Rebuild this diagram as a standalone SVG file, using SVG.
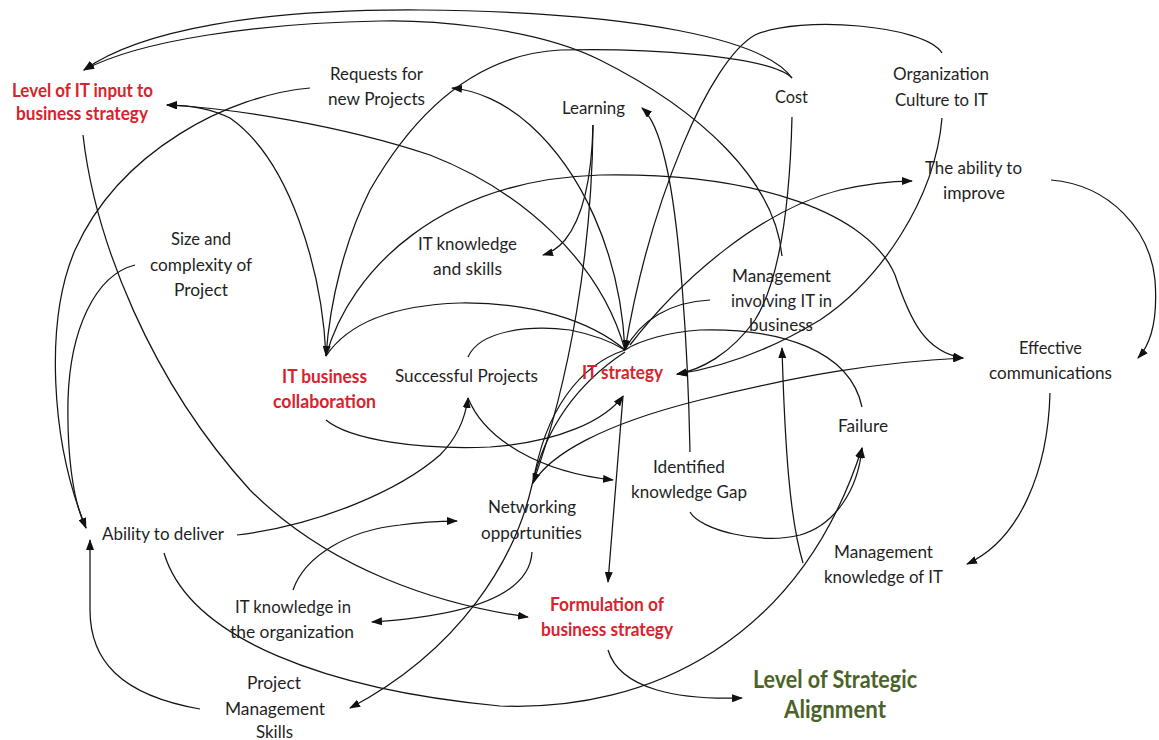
<svg xmlns="http://www.w3.org/2000/svg" width="1159" height="740" viewBox="0 0 1159 740">
  <defs>
    <marker id="arrow" markerUnits="userSpaceOnUse" markerWidth="11" markerHeight="8" refX="10" refY="4" orient="auto">
      <path d="M0,0 L11,4 L0,8 z" fill="#111"/>
    </marker>
    <style>
      .lbl { font-family: Lato, "Liberation Sans", sans-serif; font-size: 18px; fill: #1f1f1f; }
      .key { font-family: Lato, "Liberation Sans", sans-serif; font-size: 18px; font-weight: bold; fill: #d9232c; }
      .goal { font-family: Lato, "Liberation Sans", sans-serif; font-size: 24px; font-weight: bold; fill: #4b6329; }
      .link { fill: none; stroke: #141414; stroke-width: 1.25; }
      .arr { marker-end: url(#arrow); }
    </style>
  </defs>
  <rect width="1159" height="740" fill="#ffffff"/>

  <!-- causal links -->
  <g id="connectors">
    <path class="link arr" d="M792,78 C765,40 640,12 420,10 C260,9 140,30 84,70"/>
    <path class="link arr" d="M782,256 C775,180 700,110 600,60 C530,25 420,20 380,21 C260,23 140,40 84,70"/>
    <path class="link arr" d="M792,78 C770,55 640,48 560,50 C470,55 410,120 370,190 C345,240 330,300 326,356"/>
    <path class="link arr" d="M625,350 C620,250 580,170 530,125 C505,102 475,90 452,88"/>
    <path class="link arr" d="M310,88 C230,95 120,150 75,250 C45,320 50,440 86,528"/>
    <path class="link" d="M135,265 C95,275 70,330 68,400 C67,450 72,500 86,528"/>
    <path class="link arr" d="M200,709 C120,695 90,660 90,610 L90,540"/>
    <path class="link arr" d="M83,135 C95,240 150,380 250,490 C330,570 440,605 528,617"/>
    <path class="link arr" d="M326,356 C322,270 290,160 230,118 C210,108 190,105 167,105"/>
    <path class="link arr" d="M625,350 C600,260 520,190 430,155 C340,125 230,108 167,105"/>
    <path class="link arr" d="M326,356 C350,270 440,180 600,175 C760,172 870,215 895,275 C910,320 925,352 963,358"/>
    <path class="link" d="M326,356 C350,320 400,305 460,303 C530,302 590,320 625,350"/>
    <path class="link" d="M468,357 C480,330 530,325 570,330 C595,335 612,342 625,350"/>
    <path class="link arr" d="M326,420 C350,440 420,450 490,447 C560,442 605,420 623,396"/>
    <path class="link arr" d="M237,535 C320,525 400,490 440,455 C455,440 465,420 468,398"/>
    <path class="link arr" d="M468,398 C485,440 540,472 613,480"/>
    <path class="link arr" d="M690,452 C688,350 680,220 665,160 C658,130 650,115 642,108"/>
    <path class="link arr" d="M593,125 C592,170 585,215 565,240 C558,248 550,253 543,255"/>
    <path class="link arr" d="M593,125 C592,250 570,380 533,483"/>
    <path class="link" d="M625,350 C580,365 545,410 533,483"/>
    <path class="link arr" d="M625,352 C575,385 545,430 532,485 C515,560 460,650 350,708"/>
    <path class="link arr" d="M533,483 C550,455 600,425 700,400 C800,375 880,362 963,358"/>
    <path class="link arr" d="M293,590 C305,555 350,530 400,525 C420,522 440,521 457,521"/>
    <path class="link arr" d="M532,552 C530,590 480,615 372,622"/>
    <path class="link arr" d="M164,553 C190,640 330,690 500,706 C650,712 800,640 862,448"/>
    <path class="link arr" d="M690,512 C700,530 760,545 800,535 C835,525 858,490 862,448"/>
    <path class="link arr" d="M803,563 C790,520 785,450 782,348"/>
    <path class="link" d="M862,407 C850,350 780,328 700,330 C670,332 640,340 625,350"/>
    <path class="link" d="M710,300 C670,302 640,320 625,350"/>
    <path class="link arr" d="M942,53 C925,25 800,15 755,35 C710,60 650,200 625,350"/>
    <path class="link arr" d="M942,118 C935,200 880,280 820,320 C770,350 720,368 677,374"/>
    <path class="link arr" d="M792,117 C790,200 780,280 755,320 C730,355 700,370 677,374"/>
    <path class="link arr" d="M630,345 C680,280 760,210 840,190 C870,183 890,181 912,181"/>
    <path class="link arr" d="M1051,180 C1110,185 1150,230 1155,280 C1158,320 1150,345 1138,358"/>
    <path class="link arr" d="M1050,393 C1048,470 1020,540 967,564"/>
    <path class="link arr" d="M623,396 L608,582"/>
    <path class="link arr" d="M608,650 C620,690 680,700 742,698"/>
  </g>

  <g id="level-it-input">
    <text class="key" x="12" y="97" textLength="141" lengthAdjust="spacingAndGlyphs">Level of IT input to</text>
    <text class="key" x="16" y="120" textLength="132" lengthAdjust="spacingAndGlyphs">business strategy</text>
  </g>
  <g id="requests">
    <text class="lbl" x="330" y="80" textLength="93" lengthAdjust="spacingAndGlyphs">Requests for</text>
    <text class="lbl" x="328" y="105" textLength="97" lengthAdjust="spacingAndGlyphs">new Projects</text>
  </g>
  <g id="learning">
    <text class="lbl" x="562" y="114" textLength="63" lengthAdjust="spacingAndGlyphs">Learning</text>
  </g>
  <g id="cost">
    <text class="lbl" x="775" y="103" textLength="33" lengthAdjust="spacingAndGlyphs">Cost</text>
  </g>
  <g id="org-culture">
    <text class="lbl" x="893" y="80" textLength="96" lengthAdjust="spacingAndGlyphs">Organization</text>
    <text class="lbl" x="895" y="106" textLength="93" lengthAdjust="spacingAndGlyphs">Culture to IT</text>
  </g>
  <g id="ability-improve">
    <text class="lbl" x="925" y="174" textLength="97" lengthAdjust="spacingAndGlyphs">The ability to</text>
    <text class="lbl" x="943" y="199" textLength="62" lengthAdjust="spacingAndGlyphs">improve</text>
  </g>
  <g id="it-knowledge-skills">
    <text class="lbl" x="418" y="250" textLength="99" lengthAdjust="spacingAndGlyphs">IT knowledge</text>
    <text class="lbl" x="433" y="275" textLength="69" lengthAdjust="spacingAndGlyphs">and skills</text>
  </g>
  <g id="size-complexity">
    <text class="lbl" x="171" y="245" textLength="60" lengthAdjust="spacingAndGlyphs">Size and</text>
    <text class="lbl" x="150" y="271" textLength="102" lengthAdjust="spacingAndGlyphs">complexity of</text>
    <text class="lbl" x="174" y="296" textLength="54" lengthAdjust="spacingAndGlyphs">Project</text>
  </g>
  <g id="it-business-collaboration">
    <text class="key" x="282" y="383" textLength="85" lengthAdjust="spacingAndGlyphs">IT business</text>
    <text class="key" x="273" y="408" textLength="103" lengthAdjust="spacingAndGlyphs">collaboration</text>
  </g>
  <g id="successful-projects">
    <text class="lbl" x="395" y="382" textLength="143" lengthAdjust="spacingAndGlyphs">Successful Projects</text>
  </g>
  <g id="it-strategy">
    <text class="key" x="582" y="379" textLength="81" lengthAdjust="spacingAndGlyphs">IT strategy</text>
  </g>
  <g id="management-involving">
    <text class="lbl" x="732" y="282" textLength="99" lengthAdjust="spacingAndGlyphs">Management</text>
    <text class="lbl" x="731" y="307" textLength="101" lengthAdjust="spacingAndGlyphs">involving IT in</text>
    <text class="lbl" x="749" y="331" textLength="64" lengthAdjust="spacingAndGlyphs">business</text>
  </g>
  <g id="effective-communications">
    <text class="lbl" x="1019" y="354" textLength="63" lengthAdjust="spacingAndGlyphs">Effective</text>
    <text class="lbl" x="989" y="379" textLength="123" lengthAdjust="spacingAndGlyphs">communications</text>
  </g>
  <g id="failure">
    <text class="lbl" x="838" y="432" textLength="50" lengthAdjust="spacingAndGlyphs">Failure</text>
  </g>
  <g id="knowledge-gap">
    <text class="lbl" x="653" y="473" textLength="72" lengthAdjust="spacingAndGlyphs">Identified</text>
    <text class="lbl" x="631" y="498" textLength="116" lengthAdjust="spacingAndGlyphs">knowledge Gap</text>
  </g>
  <g id="networking">
    <text class="lbl" x="488" y="513" textLength="88" lengthAdjust="spacingAndGlyphs">Networking</text>
    <text class="lbl" x="481" y="539" textLength="101" lengthAdjust="spacingAndGlyphs">opportunities</text>
  </g>
  <g id="ability-deliver">
    <text class="lbl" x="102" y="540" textLength="122" lengthAdjust="spacingAndGlyphs">Ability to deliver</text>
  </g>
  <g id="it-knowledge-org">
    <text class="lbl" x="235" y="613" textLength="116" lengthAdjust="spacingAndGlyphs">IT knowledge in</text>
    <text class="lbl" x="230" y="638" textLength="124" lengthAdjust="spacingAndGlyphs">the organization</text>
  </g>
  <g id="formulation">
    <text class="key" x="550" y="611" textLength="114" lengthAdjust="spacingAndGlyphs">Formulation of</text>
    <text class="key" x="541" y="636" textLength="132" lengthAdjust="spacingAndGlyphs">business strategy</text>
  </g>
  <g id="management-knowledge">
    <text class="lbl" x="834" y="558" textLength="99" lengthAdjust="spacingAndGlyphs">Management</text>
    <text class="lbl" x="824" y="583" textLength="119" lengthAdjust="spacingAndGlyphs">knowledge of IT</text>
  </g>
  <g id="strategic-alignment">
    <text class="goal" x="753" y="688" textLength="164" lengthAdjust="spacingAndGlyphs">Level of Strategic</text>
    <text class="goal" x="784" y="718" textLength="102" lengthAdjust="spacingAndGlyphs">Alignment</text>
  </g>
  <g id="pm-skills">
    <text class="lbl" x="247" y="689" textLength="54" lengthAdjust="spacingAndGlyphs">Project</text>
    <text class="lbl" x="225" y="715" textLength="100" lengthAdjust="spacingAndGlyphs">Management</text>
    <text class="lbl" x="256" y="738" textLength="37" lengthAdjust="spacingAndGlyphs">Skills</text>
  </g>
</svg>
